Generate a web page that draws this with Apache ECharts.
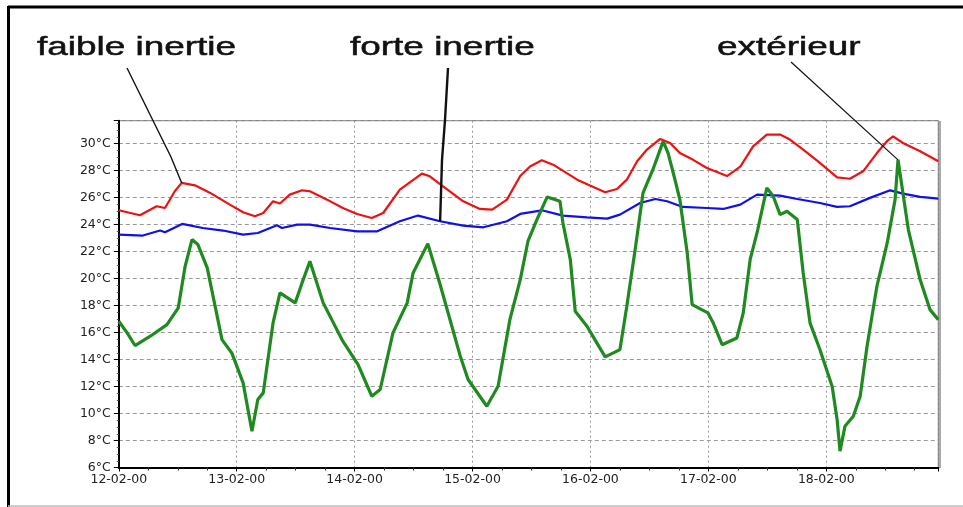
<!DOCTYPE html>
<html><head><meta charset="utf-8">
<script src="https://cdn.jsdelivr.net/npm/echarts@6/dist/echarts.min.js"></script>
<style>html,body{margin:0;padding:0;background:#fff}#c{width:963px;height:507px}</style>
</head><body><div id="c"></div>
<script>
const dayLabels = ['12-02-00','13-02-00','14-02-00','15-02-00','16-02-00','17-02-00','18-02-00'];
const seriesNames = ['faible inertie','forte inertie','extérieur'];

const hoursRed = [0,4.3,7.7,9.4,11.4,12.8,15.5,18.6,22.6,25.3,27.7,29.4,31.4,32.8,34.8,37.3,38.9,42.4,45.6,48.5,51.5,53.8,57.2,61.7,63.3,66,70.1,73.5,76,79,81.7,83.7,86.1,88.4,93.3,95.9,99,101.4,103.4,105.5,107.5,110.2,112.2,114.2,116.9,119.7,123.8,126.5,129.1,131.9,134.6,136.6,139.3,142.7,146.2,148.8,151.5,154.3,156.4,157.6,159.6,163.1,166.8];
const faibleInertie = [25.06,24.69,25.36,25.23,26.47,27.09,26.91,26.35,25.48,24.91,24.62,24.86,25.73,25.56,26.22,26.54,26.47,25.85,25.23,24.79,24.49,24.86,26.59,27.78,27.58,26.84,25.73,25.16,25.11,25.85,27.6,28.3,28.77,28.44,27.33,26.9,26.4,26.64,27.33,28.7,29.56,30.35,30.05,29.3,28.8,28.2,27.6,28.3,29.8,30.67,30.67,30.3,29.56,28.57,27.5,27.4,27.95,29.3,30.2,30.54,30.05,29.43,28.7];

const hoursBlue = [0,4.9,8.4,9.4,12.9,17.1,21.2,25.3,28.3,32.2,33.2,36.3,38.9,43,48.5,52.6,57.2,60.9,65.4,70.1,74.2,79,81.7,86.1,90.4,95.3,99.4,102,106.1,109.2,111.6,114.8,119.7,123,126.5,129.9,134.6,138.1,142.7,146.2,148.8,152.9,157,159.6,163.1,166.8];
const forteInertie = [23.26,23.19,23.56,23.43,24.05,23.75,23.56,23.26,23.38,23.95,23.75,24.0,24.0,23.75,23.5,23.5,24.25,24.67,24.25,23.93,23.8,24.25,24.79,25.06,24.67,24.54,24.44,24.74,25.6,25.9,25.73,25.31,25.23,25.16,25.48,26.22,26.15,25.9,25.6,25.31,25.36,25.98,26.54,26.3,26.05,25.93];

const hoursGreen = [0,1.7,3.3,6.4,9.8,12.1,13.5,14.9,16.1,18,21,23,25.3,27.1,28.3,29.4,31.4,32.8,35.9,37.3,38.9,41.6,45.6,48.7,51.5,53.2,55.8,58.7,59.9,62.9,65.4,69.5,71.1,74.9,77.2,79.6,81.7,83.3,85.1,87.2,89.8,90.4,91.9,92.9,95.3,96.9,99,102,103.4,105.1,106.7,108.7,110.8,111.8,113.2,114.2,115.7,116.7,119.9,121,122.8,125.8,127.1,128.5,129.9,131.9,133.2,134.6,136,138.1,139.3,140.7,142.7,145.2,146.2,146.8,147.8,149.5,150.9,152.3,154.3,156.4,158,158.6,159.4,160.7,163.1,165.1,166.8];
const exterieur = [16.84,15.98,15.04,15.73,16.59,17.83,20.91,22.89,22.52,20.79,15.48,14.49,12.27,8.69,11.04,11.53,16.72,18.94,18.2,19.68,21.28,18.2,15.36,13.63,11.28,11.78,15.98,18.2,20.42,22.59,19.56,14.25,12.52,10.54,12.02,16.96,19.9,22.8,24.37,26.05,25.73,24.12,21.4,17.58,16.47,15.48,14.2,14.74,17.95,22.15,26.35,28.07,30.17,29.3,27.33,25.85,21.9,18.07,17.46,16.7,15.1,15.6,17.46,21.4,23.38,26.72,26.1,24.74,24.99,24.37,20.42,16.7,14.74,12.0,9.56,7.21,9.06,9.8,11.28,14.99,19.43,22.64,25.85,28.8,26.84,23.63,19.93,17.7,16.96];

// points the annotation leaders point at (hours, °C)
const leaderTargets = [[12.8, 27.09], [65.4, 24.25], [158.6, 28.8]];

const pair = (xs, ys) => xs.map((x, i) => [x, ys[i]]);
const chart = echarts.init(document.getElementById('c'), null, {renderer: 'canvas'});
const lblFont = 'DejaVu Sans';

chart.setOption({
  animation: false,
  backgroundColor: '#fff',
  grid: {left: 118.8, top: 120.7, width: 819.5, height: 346.8, show: true, borderColor: '#666', borderWidth: 1, backgroundColor: '#fff'},
  xAxis: {
    type: 'value', min: 0, max: 166.8, interval: 24,
    axisLine: {onZero: false, lineStyle: {color: '#000', width: 2}},
    axisTick: {show: true, length: 4, lineStyle: {color: '#000'}},
    minorTick: {show: true, splitNumber: 4, length: 3, lineStyle: {color: '#333'}},
    axisLabel: {margin: 6, showMaxLabel: false, color: '#222', fontFamily: lblFont, fontSize: 12.5,
      formatter: v => dayLabels[Math.round(v / 24)] || ''},
    splitLine: {show: true, lineStyle: {type: [2, 3], color: '#999', width: 1}}
  },
  yAxis: {
    type: 'value', min: 6, max: 31.7, interval: 2,
    axisLine: {show: true, onZero: false, lineStyle: {color: '#000', width: 2}},
    axisTick: {show: true, length: 5, lineStyle: {color: '#000'}},
    minorTick: {show: true, splitNumber: 4, length: 2, lineStyle: {color: '#555'}},
    axisLabel: {margin: 8, showMaxLabel: false, color: '#222', fontFamily: lblFont, fontSize: 12.5,
      formatter: v => v + '°C'},
    splitLine: {show: true, lineStyle: {type: [4, 3], color: '#999', width: 1}}
  },
  series: [
    {name: seriesNames[0], type: 'line', data: pair(hoursRed, faibleInertie), showSymbol: false, lineStyle: {color: '#ee1111', width: 2.2}, z: 2},
    {name: seriesNames[1], type: 'line', data: pair(hoursBlue, forteInertie), showSymbol: false, lineStyle: {color: '#1010ee', width: 2.2}, z: 3},
    {name: seriesNames[2], type: 'line', data: pair(hoursGreen, exterieur), showSymbol: false, lineStyle: {color: '#1f8a1f', width: 3.2}, z: 4}
  ]
});

const P = p => chart.convertToPixel({gridIndex: 0}, p);
const t0 = P(leaderTargets[0]), t1 = P(leaderTargets[1]), t2 = P(leaderTargets[2]);
const title = (txt, x) => ({type: 'text', x: x, y: 47.5, scaleX: 1.42, z: 10,
  style: {text: txt, fontFamily: 'Liberation Sans', fontSize: 26, fill: '#111', stroke: '#111', lineWidth: 0.5, verticalAlign: 'middle', align: 'left'}});

chart.setOption({
  graphic: [
    {type: 'line', shape: {x1: 8, y1: 7, x2: 963, y2: 7}, style: {stroke: '#000', lineWidth: 3}},
    {type: 'line', shape: {x1: 8.5, y1: 6, x2: 8.5, y2: 507}, style: {stroke: '#000', lineWidth: 3}},
    {type: 'line', shape: {x1: 8, y1: 506, x2: 963, y2: 506}, style: {stroke: '#bbb', lineWidth: 1.5}},
    {type: 'line', shape: {x1: 940, y1: 121, x2: 940, y2: 468}, style: {stroke: '#aaa', lineWidth: 2}},
    title(seriesNames[0], 37),
    title(seriesNames[1], 350),
    title(seriesNames[2], 717),
    {type: 'polyline', z: 10, shape: {points: [[127, 68], [171, 157], t0]}, style: {stroke: '#111', lineWidth: 1.4, fill: null}},
    {type: 'polyline', z: 10, shape: {points: [[448, 68], [445, 120], [442, 160], t1]}, style: {stroke: '#111', lineWidth: 2.4, fill: null}},
    {type: 'polyline', z: 10, shape: {points: [[791, 62], t2]}, style: {stroke: '#111', lineWidth: 1.2, fill: null}}
  ]
});
</script>
</body></html>
